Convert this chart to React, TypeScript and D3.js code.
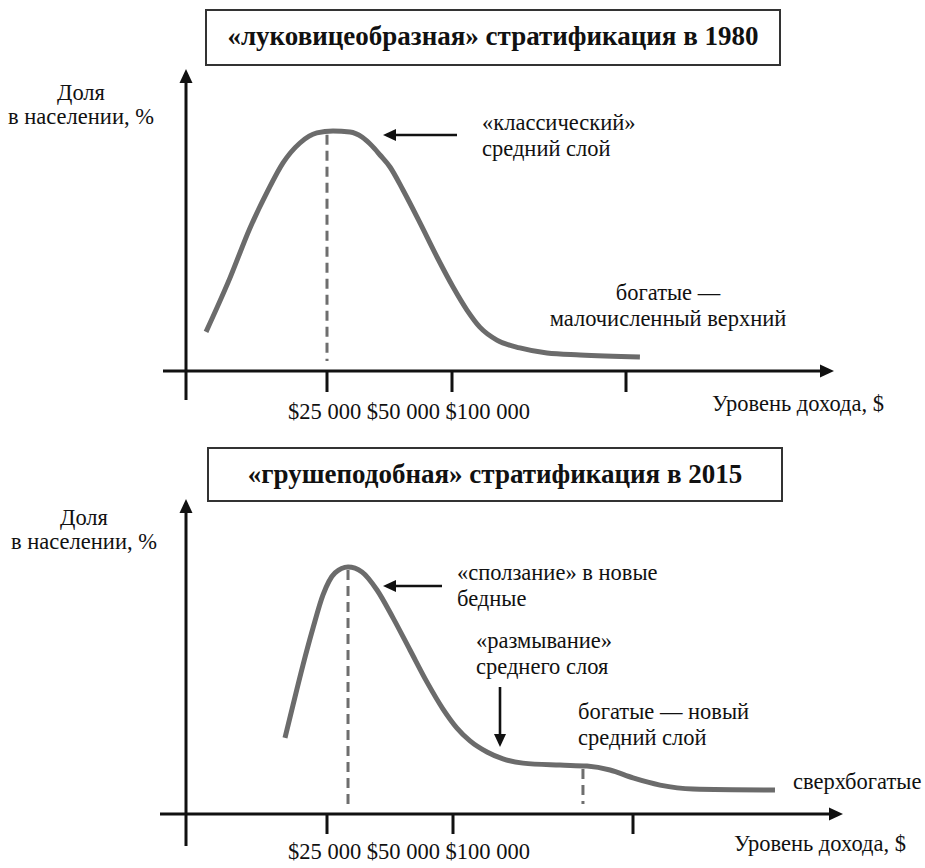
import React from "react";
import * as d3 from "d3";

// ---------- data ----------
const tickIncomes = [25000, 50000, 100000];
const tickLabels = ["$25 000", "$50 000", "$100 000"];

// 1980 distribution (income $, share %)
const income1980 = [3550, 7800, 11350, 14400, 17200, 20200, 23200, 26200, 29600, 32000, 34000, 35600, 37600, 40200, 43600, 47000, 50300, 54300, 58000, 62900, 69500, 77300, 86800, 104000];
const share1980 = [1.63, 3.88, 5.96, 7.46, 8.67, 9.5, 9.92, 10, 9.96, 9.75, 9.38, 9.0, 8.5, 7.54, 6.17, 4.75, 3.5, 2.54, 1.83, 1.29, 0.96, 0.75, 0.67, 0.58];
const markers1980 = [25000];

// 2015 distribution (income $, share %)
const income2015 = [17550, 18970, 20740, 22520, 24290, 26590, 29170, 31940, 34920, 38100, 41470, 44840, 48020, 51100, 54720, 59440, 63890, 69440, 79720, 87220, 93610, 100000, 107500, 116670, 139440];
const share2015 = [3.08, 4.41, 6.03, 7.53, 8.87, 9.76, 10, 9.8, 9.07, 7.94, 6.64, 5.34, 4.25, 3.48, 2.96, 2.51, 2.23, 2.06, 1.98, 1.94, 1.78, 1.46, 1.17, 1.01, 0.97];
const markers2015 = [29170, 86100];

const titles = ["«луковицеобразная» стратификация в 1980", "«грушеподобная» стратификация в 2015"];
const yLabel = ["Доля", "в населении, %"];
const xLabel = "Уровень дохода, $";

const FONT = "'Liberation Serif', 'Times New Roman', Times, serif";
const CURVE = "#6b6b6b";
const FS = 22.5;

type Note = { lines: string[]; x: number; y: number; anchor: string };
type Arrow = { x1: number; y1: number; x2: number; y2: number };

type PanelProps = {
  incomes: number[];
  shares: number[];
  markers: number[];
  title: string;
  xRange: number[];
  axisY: number;
  peakY: number;
  axisTop: number;
  axisBottom: number;
  axisLeft: number;
  axisRight: number;
  tickLen: number;
  titleBox: { x: number; y: number; w: number; h: number };
  titleBase: number;
  yLab: { x: number; y: number };
  xLab: { x: number; y: number };
  tickLab: { x: number; y: number };
  notes: Note[];
  arrows: Arrow[];
};

const txt = (size: number, weight: string = "normal") => ({ fontFamily: FONT, fontSize: size, fontWeight: weight as any, fill: "#111" });

function ArrowMark({ a }: { a: Arrow }) {
  const ang = Math.atan2(a.y2 - a.y1, a.x2 - a.x1);
  const L = 13, W = 6;
  const bx = a.x2 - L * Math.cos(ang), by = a.y2 - L * Math.sin(ang);
  const px = -Math.sin(ang) * W, py = Math.cos(ang) * W;
  return (
    <g>
      <line x1={a.x1} y1={a.y1} x2={bx} y2={by} stroke="#111" strokeWidth={2.6} />
      <path d={`M${a.x2},${a.y2}L${bx + px},${by + py}L${bx - px},${by - py}Z`} fill="#111" />
    </g>
  );
}

function Panel(p: PanelProps) {
  const x = d3.scaleLinear().domain([0, 25000, 50000, 100000, 150000]).range(p.xRange);
  const y = d3.scaleLinear().domain([0, 10]).range([p.axisY, p.peakY]);
  const pts = p.incomes.map((v, i) => [v, p.shares[i]] as [number, number]);
  const line = d3
    .line<[number, number]>()
    .x((d) => x(d[0]))
    .y((d) => y(d[1]))
    .curve(d3.curveMonotoneX);
  const interp = (v: number) => {
    const bis = d3.bisector((d: [number, number]) => d[0]).left(pts, v);
    const a = pts[Math.max(0, bis - 1)], b = pts[Math.min(pts.length - 1, bis)];
    if (a[0] === b[0]) return a[1];
    return a[1] + ((b[1] - a[1]) * (v - a[0])) / (b[0] - a[0]);
  };
  const ax = p.xRange[0];
  return (
    <g>
      <rect x={p.titleBox.x} y={p.titleBox.y} width={p.titleBox.w} height={p.titleBox.h} fill="#fff" stroke="#333" strokeWidth={2} />
      <text x={p.titleBox.x + p.titleBox.w / 2} y={p.titleBase} textAnchor="middle" style={txt(27, "bold")}>
        {p.title}
      </text>
      {p.markers.map((m, i) => (
        <line key={i} x1={x(m)} x2={x(m)} y1={y(interp(m)) + 3} y2={p.axisY - 10} stroke="#6e6e6e" strokeWidth={3} strokeDasharray="10,6" />
      ))}
      <path d={line(pts) || ""} fill="none" stroke={CURVE} strokeWidth={5} />
      <line x1={ax} x2={ax} y1={p.axisTop + 12} y2={p.axisBottom} stroke="#111" strokeWidth={3} />
      <path d={`M${ax},${p.axisTop}L${ax + 6.5},${p.axisTop + 14}L${ax - 6.5},${p.axisTop + 14}Z`} fill="#111" />
      <line x1={p.axisLeft} x2={p.axisRight - 12} y1={p.axisY} y2={p.axisY} stroke="#111" strokeWidth={3} />
      <path d={`M${p.axisRight},${p.axisY}L${p.axisRight - 14},${p.axisY - 6.5}L${p.axisRight - 14},${p.axisY + 6.5}Z`} fill="#111" />
      {tickIncomes.map((t, i) => (
        <line key={i} x1={x(t)} x2={x(t)} y1={p.axisY} y2={p.axisY + p.tickLen} stroke="#111" strokeWidth={3} />
      ))}
      <text x={p.tickLab.x} y={p.tickLab.y} style={txt(FS)}>
        {tickLabels.join(" ")}
      </text>
      <text x={p.yLab.x} y={p.yLab.y} textAnchor="middle" style={txt(FS)}>
        <tspan x={p.yLab.x}>{yLabel[0]}</tspan>
        <tspan x={p.yLab.x} dy={24}>{yLabel[1]}</tspan>
      </text>
      <text x={p.xLab.x} y={p.xLab.y} style={txt(FS)}>
        {xLabel}
      </text>
      {p.notes.map((n, i) => (
        <text key={i} x={n.x} y={n.y} textAnchor={n.anchor} style={txt(FS)}>
          {n.lines.map((l, j) => (
            <tspan key={j} x={n.x} dy={j === 0 ? 0 : 26}>
              {l}
            </tspan>
          ))}
        </text>
      ))}
      {p.arrows.map((a, i) => (
        <ArrowMark key={i} a={a} />
      ))}
    </g>
  );
}

export default function App() {
  return (
    <svg width={925} height={868} style={{ position: "absolute", left: 0, top: 0, background: "#fff", fontFamily: FONT }}>
      <rect width={925} height={868} fill="#fff" />
      <Panel
        incomes={income1980}
        shares={share1980}
        markers={markers1980}
        title={titles[0]}
        xRange={[186, 327, 452, 626, 800]}
        axisY={371}
        peakY={131}
        axisTop={69}
        axisBottom={400}
        axisLeft={163}
        axisRight={834}
        tickLen={21}
        titleBox={{ x: 206, y: 10, w: 574, h: 55 }}
        titleBase={45}
        yLab={{ x: 81, y: 100 }}
        xLab={{ x: 712, y: 411 }}
        tickLab={{ x: 288, y: 419 }}
        notes={[
          { lines: ["«классический»", "средний слой"], x: 482, y: 130, anchor: "start" },
          { lines: ["богатые —", "малочисленный верхний"], x: 668, y: 300, anchor: "middle" },
        ]}
        arrows={[{ x1: 457, y1: 135, x2: 383, y2: 135 }]}
      />
      <Panel
        incomes={income2015}
        shares={share2015}
        markers={markers2015}
        title={titles[1]}
        xRange={[186, 327, 453, 633, 813]}
        axisY={814}
        peakY={567}
        axisTop={499}
        axisBottom={846}
        axisLeft={160}
        axisRight={843}
        tickLen={20}
        titleBox={{ x: 208, y: 448, w: 574, h: 53 }}
        titleBase={483}
        yLab={{ x: 84, y: 525 }}
        xLab={{ x: 734, y: 851 }}
        tickLab={{ x: 288, y: 859 }}
        notes={[
          { lines: ["«сползание» в новые", "бедные"], x: 457, y: 580, anchor: "start" },
          { lines: ["«размывание»", "среднего слоя"], x: 476, y: 648, anchor: "start" },
          { lines: ["богатые — новый", "средний слой"], x: 578, y: 719, anchor: "start" },
          { lines: ["сверхбогатые"], x: 793, y: 789, anchor: "start" },
        ]}
        arrows={[
          { x1: 442, y1: 586, x2: 383, y2: 586 },
          { x1: 500, y1: 687, x2: 500, y2: 747 },
        ]}
      />
    </svg>
  );
}
